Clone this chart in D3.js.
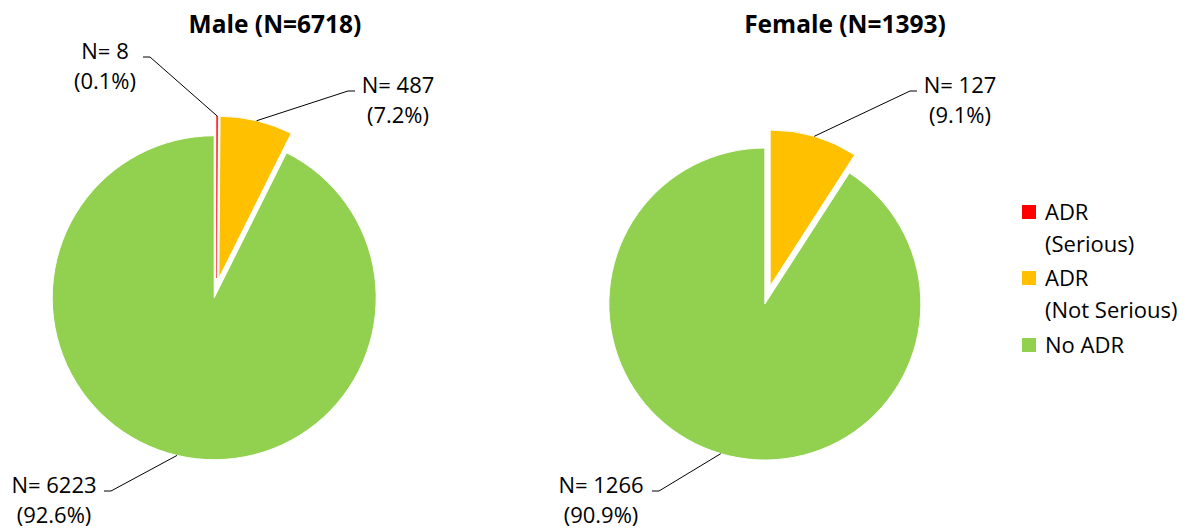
<!DOCTYPE html>
<html>
<head>
<meta charset="utf-8">
<script src="https://cdn.jsdelivr.net/npm/d3@7"></script>
<style>
  body { margin: 0; background: #fff; }
  text { font-family: "Open Sans", sans-serif; fill: #000; }
</style>
</head>
<body>
<svg id="chart" width="1191" height="529"></svg>
<script>
// data
const groups = ["Male", "Female"];
const totals = [6718, 1393];
const categories = ["ADR (Serious)", "ADR (Not Serious)", "No ADR"];
const legendLines = [["ADR", "(Serious)"], ["ADR", "(Not Serious)"], ["No ADR"]];
const serious = [8, 0];
const notSerious = [487, 127];
const noADR = [6223, 1266];

const colors = ["#FF0000", "#FFC000", "#92D050"];

// layout for each pie
const pies = [
	{cx: 216.5, cy: 288, r: 162, explode: 10, titleX: 275,
		labels: [
			{x: 105, y: 59, side: "right", stub: [143, 150]},
			{x: 398, y: 93, side: "left", stub: [355, 348]},
			{x: 54, y: 493, side: "right", stub: [104, 111]}
		]},
	{cx: 767.5, cy: 295, r: 156, explode: 9.4, titleX: 845,
		labels: [
			null,
			{x: 960, y: 93, side: "left", stub: [917, 910]},
			{x: 601, y: 493, side: "right", stub: [652, 659]}
		]}
];

const svg = d3.select("#chart");

const pie = d3.pie().sort(null).value(d => d.value);

groups.forEach((g, gi) => {
	const p = pies[gi];
	const data = categories.map((c, i) => ({
		cat: c, i: i,
		value: [serious, notSerious, noADR][i][gi]
	}));
	const arcs = pie(data).filter(d => d.data.value > 0);
	const arc = d3.arc().innerRadius(0).outerRadius(p.r);
	const edge = d3.arc().innerRadius(p.r).outerRadius(p.r);

	// exploded slice offset along its bisector
	const off = d => {
		const m = (d.startAngle + d.endAngle) / 2;
		return [p.cx + p.explode * Math.sin(m), p.cy - p.explode * Math.cos(m)];
	};

	const chart = svg.append("g");

	chart.selectAll("path.slice")
		.data(arcs)
		.enter()
		.append("path")
			.attr("class", "slice")
			.attr("transform", d => "translate(" + off(d) + ")")
			.attr("d", arc)
			.attr("fill", d => colors[d.data.i])
			.attr("stroke", d => d.data.i == 0 ? colors[0] : "#fff")
			.attr("stroke-width", d => d.data.i == 0 ? 0.4 : 1);

	// title
	svg.append("text")
		.attr("x", p.titleX)
		.attr("y", 33)
		.attr("text-anchor", "middle")
		.style("font-size", "24.5px")
		.style("font-weight", "bold")
		.text(g + " (N=" + totals[gi] + ")");

	// data labels and leader lines
	arcs.forEach(d => {
		const lab = p.labels[d.data.i];
		if (!lab) return;
		const o = off(d);
		const c = edge.centroid(d);
		const tip = [o[0] + c[0], o[1] + c[1]];
		svg.append("polyline")
			.attr("points", [[lab.stub[0], lab.y - 2], [lab.stub[1], lab.y - 2], tip].join(" "))
			.attr("fill", "none")
			.attr("stroke", "#000")
			.attr("stroke-width", 1);
		const pct = (d.data.value / totals[gi] * 100).toFixed(1);
		const t = svg.append("text")
			.attr("text-anchor", "middle")
			.style("font-size", "22px");
		t.append("tspan").attr("x", lab.x).attr("y", lab.y).text("N= " + d.data.value);
		t.append("tspan").attr("x", lab.x).attr("y", lab.y + 30).text("(" + pct + "%)");
	});
});

// legend
const legendTop = [205, 271, 338];
const legend = svg.append("g");
categories.forEach((c, i) => {
	legend.append("rect")
		.attr("x", 1022)
		.attr("y", legendTop[i])
		.attr("width", 14)
		.attr("height", 14)
		.attr("fill", colors[i]);
	const t = legend.append("text").style("font-size", "22px");
	legendLines[i].forEach((ln, j) => {
		t.append("tspan")
			.attr("x", 1045)
			.attr("y", legendTop[i] + 15 + j * 32)
			.text(ln);
	});
});
</script>
</body>
</html>
